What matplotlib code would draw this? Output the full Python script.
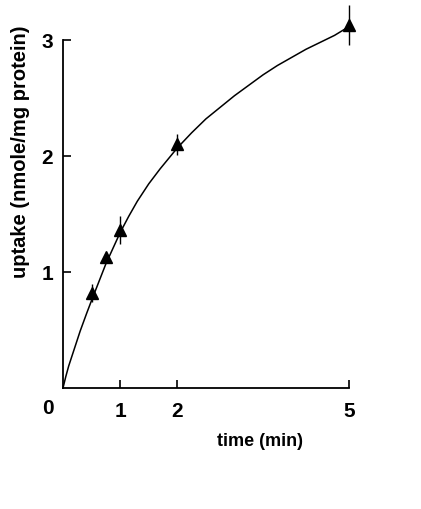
import matplotlib.pyplot as plt

# datos medidos (tiempo en min, captación en nmol/mg proteína)
tiempo = [0.5, 0.75, 1.0, 2.0, 5.0]
captacion = [0.82, 1.13, 1.36, 2.10, 3.13]
error = [0.08, 0.0, 0.12, 0.09, 0.17]

# curva ajustada
curva_t = [0, 0.05, 0.1, 0.21, 0.3, 0.415, 0.5, 0.75, 1.0, 1.15, 1.3, 1.5, 1.7,
           1.85, 2.0, 2.25, 2.5, 2.75, 3.0, 3.25, 3.5, 3.75, 4.0, 4.25, 4.5, 4.75, 4.95]
curva_y = [0, 0.10, 0.19, 0.355, 0.49, 0.645, 0.755, 1.07, 1.34, 1.48, 1.61, 1.76, 1.89,
           1.98, 2.07, 2.20, 2.32, 2.42, 2.52, 2.61, 2.70, 2.78, 2.85, 2.92, 2.98, 3.04, 3.10]

ticks_x = [1, 2, 5]
ticks_y = [1, 2, 3]

plt.rcParams['font.family'] = ['Liberation Sans', 'DejaVu Sans']
plt.rcParams['font.weight'] = 'bold'

fig = plt.figure(figsize=(4.21, 5.09), dpi=100)
ax = fig.add_axes([0.1496, 0.2377, 0.679, 0.6837])

ax.plot(curva_t, curva_y, color='black', linewidth=1.1, clip_on=False)
ax.errorbar(tiempo, captacion, yerr=error, fmt='^', color='black',
            markersize=9, elinewidth=1.0, capsize=0, clip_on=False)

ax.set_xlim(0, 5)
ax.set_ylim(0, 3)
ax.spines['top'].set_visible(False)
ax.spines['right'].set_visible(False)
ax.spines['left'].set_linewidth(1.3)
ax.spines['bottom'].set_linewidth(1.3)

ax.set_xticks(ticks_x)
ax.set_yticks(ticks_y)
ax.tick_params(direction='in', length=6, width=1.2, labelsize=15)
ax.tick_params(axis='x', pad=10)
ax.tick_params(axis='y', pad=7)
for lab in ax.get_xticklabels() + ax.get_yticklabels():
    lab.set_fontweight('bold')

ax.annotate('0', xy=(0, 0), xytext=(-11, -14.5), textcoords='offset points',
            ha='center', va='center', fontsize=15, fontweight='bold')

ax.set_xlabel('time (min)', fontsize=13, fontweight='bold')
ax.xaxis.set_label_coords(0.69, -0.13)
ax.set_ylabel('uptake (nmole/mg protein)', fontsize=14.5, fontweight='bold')
ax.yaxis.set_label_coords(-0.115, 0.68)

fig.savefig('out.png', dpi=100)
